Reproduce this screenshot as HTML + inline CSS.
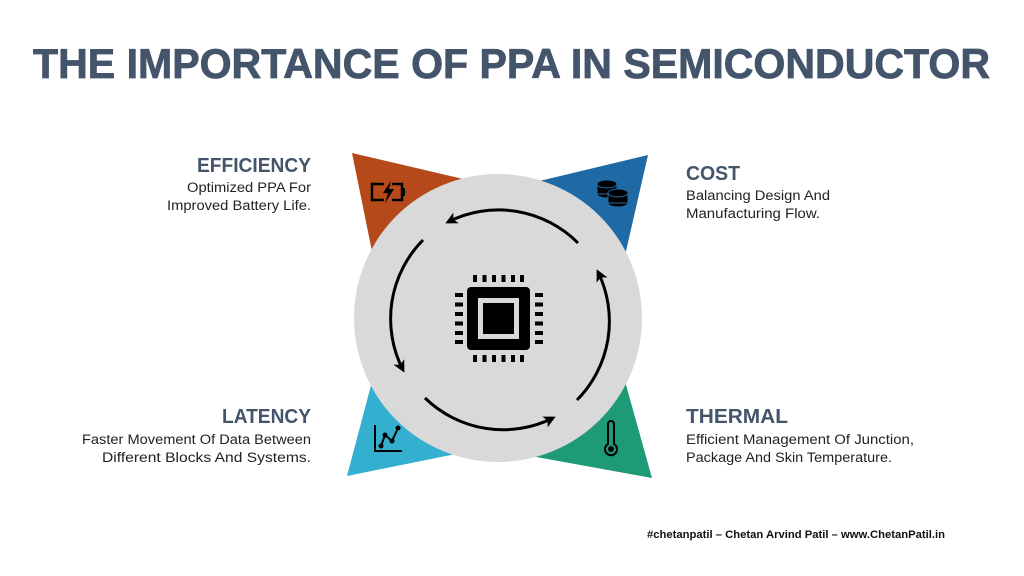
<!DOCTYPE html>
<html><head><meta charset="utf-8"><style>
html,body{margin:0;padding:0;background:#fff;width:1024px;height:576px;overflow:hidden}
svg{display:block}
text{font-family:"Liberation Sans",sans-serif}
</style></head><body>
<svg width="1024" height="576" viewBox="0 0 1024 576" xmlns="http://www.w3.org/2000/svg">
<defs>
<marker id="ah" markerWidth="12" markerHeight="12" refX="9" refY="6" orient="auto" markerUnits="userSpaceOnUse">
<path d="M0,0 L12,6 L0,12 L3,6 Z" fill="#000"/>
</marker>
</defs>
<text x="33" y="78" font-size="42" font-weight="bold" fill="#44546a" stroke="#44546a" stroke-width="0.8" textLength="957" lengthAdjust="spacingAndGlyphs">THE IMPORTANCE OF PPA IN SEMICONDUCTOR</text>

<polygon points="352,153 540,197 388,330" fill="#b5491a"/>
<polygon points="648,155 460,200 608,330" fill="#1f6aa5"/>
<polygon points="347,476 392,306 525,440" fill="#35afcf"/>
<polygon points="652,478 604,306 470,445" fill="#1f9a76"/>

<circle cx="498" cy="318" r="144" fill="#d9d9d9"/>

<g fill="none" stroke="#000" stroke-width="3" marker-end="url(#ah)">
<path d="M578,243 A112,112 0 0 0 448,222"/>
<path d="M423,240 A112,112 0 0 0 403,370"/>
<path d="M425,398 A112,112 0 0 0 553,418"/>
<path d="M577,400 A112,112 0 0 0 598,272"/>
</g>

<g fill="#000">
<rect x="467" y="287" width="63" height="63" rx="4"/>
<rect x="478" y="298" width="41" height="41" fill="#d9d9d9"/>
<rect x="483" y="303" width="31" height="31"/>
<g id="tp"><rect x="473" y="275" width="4" height="7"/><rect x="482.5" y="275" width="4" height="7"/><rect x="492" y="275" width="4" height="7"/><rect x="501.5" y="275" width="4" height="7"/><rect x="511" y="275" width="4" height="7"/><rect x="520" y="275" width="4" height="7"/></g>
<use href="#tp" y="80"/>
<g id="lp"><rect x="455" y="293" width="8" height="4"/><rect x="455" y="302.5" width="8" height="4"/><rect x="455" y="312" width="8" height="4"/><rect x="455" y="321.5" width="8" height="4"/><rect x="455" y="331" width="8" height="4"/><rect x="455" y="340" width="8" height="4"/></g>
<use href="#lp" x="80"/>
</g>

<g fill="none" stroke="#000" stroke-width="2.5">
<path d="M384,184 H372 V200 H384 M392,184 H402 V200 H392"/>
<rect x="402" y="188" width="3" height="8" fill="#000" stroke="none"/>
</g>
<path d="M391,181 L383,193 L388,193 L385,203 L394,189 L389,189 Z" fill="#000"/>

<g fill="#000" stroke="#1f6aa5" stroke-width="1">
<ellipse cx="607" cy="194" rx="10" ry="4"/><rect x="597" y="184" width="20" height="10"/><ellipse cx="607" cy="184" rx="10" ry="4"/>
<ellipse cx="618" cy="203" rx="10" ry="4"/><rect x="608" y="193" width="20" height="10"/><ellipse cx="618" cy="193" rx="10" ry="4"/>
</g>

<g stroke="#000" stroke-width="2" fill="none">
<path d="M375,425 V451 H402"/>
<path d="M381,446 L385,435 L392,441 L398,428"/>
</g>
<g fill="#000"><circle cx="381" cy="446" r="2.5"/><circle cx="385" cy="435" r="2.5"/><circle cx="392" cy="441" r="2.5"/><circle cx="398" cy="428" r="2.5"/></g>

<path d="M608,424 a3,3 0 0 1 6,0 V444 a6,6 0 1 1 -6,0 Z" fill="none" stroke="#000" stroke-width="2"/>
<circle cx="611" cy="449" r="3" fill="#000"/>

<g fill="#44546a" font-weight="bold" font-size="20">
<text x="197" y="172" textLength="114" lengthAdjust="spacingAndGlyphs">EFFICIENCY</text>
<text x="686" y="180" textLength="54" lengthAdjust="spacingAndGlyphs">COST</text>
<text x="222" y="423" textLength="89" lengthAdjust="spacingAndGlyphs">LATENCY</text>
<text x="686" y="423" textLength="102" lengthAdjust="spacingAndGlyphs">THERMAL</text>
</g>
<g fill="#222" font-size="13.5">
<text x="187" y="192" textLength="124" lengthAdjust="spacingAndGlyphs">Optimized PPA For</text>
<text x="167" y="210" textLength="144" lengthAdjust="spacingAndGlyphs">Improved Battery Life.</text>
<text x="686" y="200" textLength="144" lengthAdjust="spacingAndGlyphs">Balancing Design And</text>
<text x="686" y="218" textLength="134" lengthAdjust="spacingAndGlyphs">Manufacturing Flow.</text>
<text x="82" y="444" textLength="229" lengthAdjust="spacingAndGlyphs">Faster Movement Of Data Between</text>
<text x="102" y="462" textLength="209" lengthAdjust="spacingAndGlyphs">Different Blocks And Systems.</text>
<text x="686" y="444" textLength="228" lengthAdjust="spacingAndGlyphs">Efficient Management Of Junction,</text>
<text x="686" y="462" textLength="206" lengthAdjust="spacingAndGlyphs">Package And Skin Temperature.</text>
</g>
<text x="647" y="538" font-size="11" font-weight="bold" fill="#111" textLength="298" lengthAdjust="spacingAndGlyphs">#chetanpatil – Chetan Arvind Patil – www.ChetanPatil.in</text>
</svg>
</body></html>
